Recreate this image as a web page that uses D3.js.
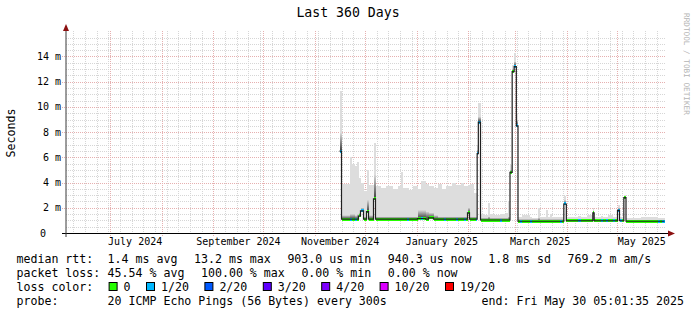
<!DOCTYPE html>
<html>
<head>
<meta charset="utf-8">
<script src="https://cdn.jsdelivr.net/npm/d3@7"></script>
<style>
  body { margin: 0; background: #fff; }
  svg { display: block; font-family: "DejaVu Sans Mono", monospace; }
</style>
</head>
<body>
<div id="chart"></div>
<script>
// days since start of graph (segment starts), values in ms
const dayOffset = [164.4,165.6,170.4,171.6,173.4,174.6,175.8,177.0,178.8,180.6,181.8,184.8,186.0,189.0,192.0,196.2,199.2,201.0,202.2,204.6,
  205.8,208.2,211.2,213.0,214.2,216.0,217.8,220.8,223.2,225.6,226.8,228.0,231.6,234.0,235.2,237.0,238.8,240.0,241.2,242.4,
  244.8,246.3,247.0,247.7,249.0,251.4,253.5,254.4,256.8,260.4,261.6,264.0,265.5,266.7,268.0,269.2,270.5,271.5,272.7,273.9,
  278.4,279.6,283.2,284.7,288.3,289.2,290.7,291.6,296.4,297.9,299.0,300.5,307.2,309.0,312.6,316.4,317.2,321.0,322.2,324.0,
  325.2,328.2,329.4,331.2,332.4,333.9,335.0,336.3,345.0,355.2,356.4,357.6];
const medianMs = [6.5,1.1,1.1,1.1,1.1,1.1,1.35,1.75,1.1,1.7,1.1,2.7,1.1,1.1,1.1,1.1,1.1,1.1,1.1,1.1,
  1.1,1.1,1.15,1.15,1.15,1.1,1.2,1.1,1.1,1.1,1.1,1.1,1.1,1.1,1.1,1.1,1.1,1.1,1.6,1.1,
  1.1,1.1,6.3,8.8,1.03,1.03,1.03,1.03,1.03,1.03,1.03,1.03,1.03,4.8,12.8,13.2,8.5,0.93,0.93,0.93,
  0.93,0.93,0.93,0.93,0.93,0.93,0.93,0.93,0.93,0.93,2.3,0.97,0.97,0.97,0.97,1.6,0.97,0.97,0.97,0.97,
  0.97,0.97,0.97,1.8,0.97,0.97,2.8,0.93,0.93,0.93,0.93,0.93];
const smokeMidMs = [7.9,1.4,1.5,1.5,1.4,1.5,1.6,2.0,1.3,2.6,1.4,4.6,1.3,1.3,1.3,1.3,1.3,1.3,1.3,1.3,
  1.3,1.3,1.8,1.8,1.8,1.7,1.6,1.4,1.3,1.3,1.3,1.3,1.3,1.3,1.3,1.3,1.3,1.3,2.0,1.3,
  1.3,1.3,6.6,9.2,1.2,1.2,1.3,1.2,1.2,1.2,1.2,1.2,1.3,5.0,13.0,13.6,9.0,1.1,1.1,1.1,
  1.1,1.1,1.2,1.1,1.1,1.1,1.1,1.1,1.1,1.1,2.6,1.1,1.1,1.1,1.1,1.7,1.1,1.1,1.1,1.1,
  1.1,1.1,1.1,2.0,1.1,1.1,2.9,1.05,1.05,1.05,1.05,1.05];
const smokeMaxMs = [11.3,3.9,6.0,5.5,5.3,5.6,4.4,4.0,3.3,5.0,3.8,7.1,3.7,3.6,3.7,3.5,3.7,4.8,3.6,3.6,
  3.4,3.7,3.5,4.1,4.1,3.9,3.7,3.6,3.9,3.5,3.5,3.7,4.0,3.8,3.8,4.0,3.7,3.7,3.8,3.9,
  3.2,3.2,7.0,10.3,1.5,1.4,2.4,1.5,1.4,1.5,1.5,1.6,2.5,5.4,13.3,14.3,9.4,1.3,1.3,1.4,
  1.3,1.2,2.0,1.3,1.8,1.3,1.5,1.25,1.3,1.3,2.9,1.3,1.35,1.3,1.4,2.0,1.3,1.35,1.3,1.3,
  1.4,1.3,1.3,2.2,1.3,1.3,3.05,1.2,1.25,1.2,1.2,1.2];
const lostPings = [1,0,1,0,1,0,0,1,0,0,0,0,0,0,0,0,0,0,0,1,
  0,0,0,1,0,0,0,0,0,0,1,0,0,1,0,0,1,0,0,0,
  0,1,1,1,0,0,0,0,0,1,0,0,0,0,0,1,1,0,1,0,
  1,0,0,0,0,0,0,0,1,0,1,0,1,0,0,0,0,1,0,1,
  0,1,0,1,1,0,0,0,0,1,0,1];

const lossSteps = [0, 1, 2, 3, 4, 10, 19];
const lossLabels = ["0", "1/20", "2/20", "3/20", "4/20", "10/20", "19/20"];
const lossColors = ["#26ff00", "#00b8ff", "#0059ff", "#5e00ff", "#7e00ff", "#dd00ff", "#ff0000"];

const yTicks = [0, 2, 4, 6, 8, 10, 12, 14];
const monthLabels = ["July 2024", "September 2024", "November 2024", "January 2025", "March 2025", "May 2025"];

const rttLegend = ["1.4 ms avg", "13.2 ms max", "903.0 us min", "940.3 us now", "1.8 ms sd", "769.2 m am/s"];
const lossLegend = ["45.54 % avg", "100.00 % max", "0.00 % min", "0.00 % now"];
const probeText = "20 ICMP Echo Pings (56 Bytes) every 300s";
const endText = "end: Fri May 30 05:01:35 2025";

const width = 697, height = 315;
const endTime = new Date(Date.UTC(2025, 4, 30, 5, 1, 35));
const startTime = new Date(+endTime - 360 * 864e5);
const toDate = d => new Date(+startTime + d * 864e5);

const x = d3.scaleUtc().domain([startTime, endTime]).range([65.5, 665.5]);
const y = d3.scaleLinear().domain([0, 15.94]).range([233, 32]);

const svg = d3.select("#chart").append("svg")
    .attr("width", width)
    .attr("height", height);

const defs = svg.append("defs");
const grad = defs.append("linearGradient").attr("id", "smoke")
    .attr("x1", 0).attr("y1", 0).attr("x2", 0).attr("y2", 1);
grad.append("stop").attr("offset", "0%").attr("stop-color", "#d6d6d6");
grad.append("stop").attr("offset", "100%").attr("stop-color", "#3c3c3c");

// title
svg.append("text")
    .attr("x", 348).attr("y", 17)
    .attr("text-anchor", "middle")
    .attr("font-size", 13.2)
    .text("Last 360 Days");

// rrdtool watermark
svg.append("text")
    .attr("transform", "translate(684,13) rotate(90)")
    .attr("font-size", 7.7)
    .attr("fill", "#b4b4b4")
    .text("RRDTOOL / TOBI OETIKER");

// grid
const grid = svg.append("g").attr("stroke-dasharray", "1,1").attr("shape-rendering", "crispEdges");
const minorY = d3.range(0.5, 15.9, 0.5).filter(v => v % 2 !== 0);
grid.selectAll(".hmin").data(minorY).enter().append("line")
    .attr("x1", 66).attr("x2", 666)
    .attr("y1", d => Math.round(y(d)) + 0.5).attr("y2", d => Math.round(y(d)) + 0.5)
    .attr("stroke", "#d6d6d6");
const weeks = d3.utcSunday.range(startTime, endTime);
grid.selectAll(".vmin").data(weeks).enter().append("line")
    .attr("x1", d => Math.round(x(d)) + 0.5).attr("x2", d => Math.round(x(d)) + 0.5)
    .attr("y1", 31).attr("y2", 233)
    .attr("stroke", "#d6d6d6");
grid.selectAll(".hmaj").data(yTicks.slice(1)).enter().append("line")
    .attr("x1", 62).attr("x2", 666)
    .attr("y1", d => Math.round(y(d)) + 0.5).attr("y2", d => Math.round(y(d)) + 0.5)
    .attr("stroke", "#e6b0b0");
const months = d3.utcMonth.range(startTime, endTime);
grid.selectAll(".vmaj").data(months).enter().append("line")
    .attr("x1", d => Math.round(x(d)) + 0.5).attr("x2", d => Math.round(x(d)) + 0.5)
    .attr("y1", 31).attr("y2", 237)
    .attr("stroke", "#e6b0b0");

// segments
const segs = dayOffset.map((d, i) => ({
    x0: x(toDate(d)),
    x1: i < dayOffset.length - 1 ? x(toDate(dayOffset[i + 1])) : x(endTime) - 1,
    med: medianMs[i], mid: smokeMidMs[i], max: smokeMaxMs[i], lost: lostPings[i]
}));

const plot = svg.append("g").attr("shape-rendering", "crispEdges");
plot.selectAll(".smk").data(segs).enter().append("rect")
    .attr("x", d => d.x0).attr("width", d => d.x1 - d.x0)
    .attr("y", d => y(d.max)).attr("height", d => y(d.med) - y(d.max))
    .attr("fill", "#dddddd");
plot.selectAll(".smkd").data(segs).enter().append("rect")
    .attr("x", d => d.x0).attr("width", d => d.x1 - d.x0)
    .attr("y", d => y(d.mid)).attr("height", d => y(d.med) - y(d.mid))
    .attr("fill", "url(#smoke)");

// median line
const pts = segs.map(d => [d.x0, y(d.med)]);
pts.push([segs[segs.length - 1].x1, y(segs[segs.length - 1].med)]);
svg.append("path")
    .attr("d", d3.line().curve(d3.curveStepAfter)(pts))
    .attr("fill", "none")
    .attr("stroke", "#202020")
    .attr("stroke-width", 1.2);

// loss coloured bands on median
const lossIndex = n => {
    let k = 0;
    lossSteps.forEach((s, i) => { if (n >= s) k = i; });
    return k;
};
plot.selectAll(".band").data(segs).enter().append("rect")
    .attr("x", d => d.x0).attr("width", d => d.x1 - d.x0)
    .attr("y", d => y(d.med) - 1.5).attr("height", 3)
    .attr("fill", d => lossColors[lossIndex(d.lost)]);

// axes
svg.append("line").attr("x1", 62).attr("x2", 669).attr("y1", 233.5).attr("y2", 233.5)
    .attr("stroke", "#000");
svg.append("line").attr("x1", 66).attr("x2", 66).attr("y1", 237).attr("y2", 30)
    .attr("stroke", "#3a3a3a");
svg.append("path").attr("d", "M668,230.5L675,233.5L668,236.5Z").attr("fill", "#8b1010");
svg.append("path").attr("d", "M63,31L66,24L69,31Z").attr("fill", "#8b1010");

// y tick labels
svg.selectAll(".ytl").data(yTicks).enter().append("text")
    .attr("x", d => d === 0 ? 46 : 61)
    .attr("y", d => y(d) + 3.5)
    .attr("text-anchor", "end")
    .attr("font-size", 10)
    .text(d => d === 0 ? "0" : d + " m");

svg.append("text")
    .attr("transform", "translate(14.5,133) rotate(-90)")
    .attr("text-anchor", "middle")
    .attr("font-size", 11.6)
    .text("Seconds");

// x labels: every 2nd month, centred half a month later
const labelMonths = d3.utcMonth.every(2).range(startTime, endTime);
svg.selectAll(".xtl").data(labelMonths).enter().append("text")
    .attr("x", d => x(new Date(+d + 15 * 864e5)))
    .attr("y", 245)
    .attr("text-anchor", "middle")
    .attr("font-size", 10)
    .text((d, i) => monthLabels[i]);

// legend
const cw = 7.0, gap = 16.4, lx = 107.6;
const leg = svg.append("g").attr("font-size", 11.6);
const row = (label, items, yy) => {
    leg.append("text").attr("x", 16.5).attr("y", yy).text(label);
    let px = lx;
    items.forEach(t => {
        leg.append("text").attr("x", px).attr("y", yy).text(t);
        px += t.length * cw + gap;
    });
};
row("median rtt:", rttLegend, 263);
row("packet loss:", lossLegend, 277);

leg.append("text").attr("x", 16.5).attr("y", 291).text("loss color:");
let bx = 108.6;
lossLabels.forEach((l, i) => {
    leg.append("rect").attr("x", bx + 0.5).attr("y", 282.5).attr("width", 8).attr("height", 8)
        .attr("fill", lossColors[i]).attr("stroke", "#000");
    leg.append("text").attr("x", bx + 15).attr("y", 291).text(l);
    bx += 15 + l.length * cw + 15.4;
});

leg.append("text").attr("x", 16.5).attr("y", 305).text("probe:");
leg.append("text").attr("x", lx).attr("y", 305).text(probeText);
leg.append("text").attr("x", 684).attr("y", 305).attr("text-anchor", "end").text(endText);
</script>
</body>
</html>
